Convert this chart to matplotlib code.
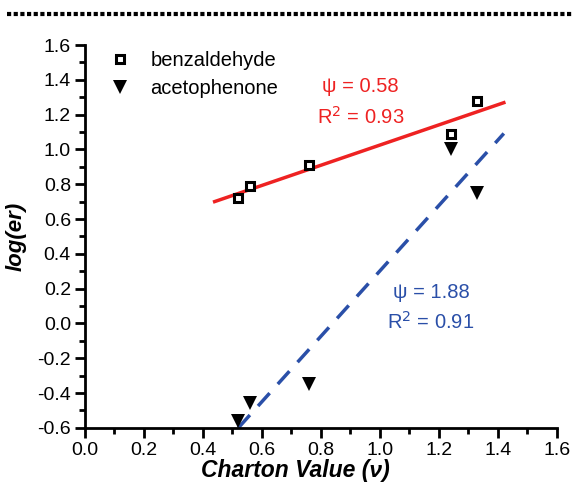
import numpy as np
import matplotlib.pyplot as plt
from matplotlib.lines import Line2D
from matplotlib.ticker import MultipleLocator

plt.rcParams['font.family'] = ['Liberation Sans', 'DejaVu Sans']

# Charton-Werte und log(er)
x_benz = [0.52, 0.56, 0.76, 1.24, 1.33]
y_benz = [0.72, 0.79, 0.91, 1.09, 1.28]
x_aceto = [0.52, 0.56, 0.76, 1.24, 1.33]
y_aceto = [-0.56, -0.46, -0.35, 1.00, 0.75]

# Regressionsgeraden (Steigung, Achsenabschnitt, x-Bereich)
fit_benz = (0.58, 0.445, [0.44, 1.42])
fit_aceto = (1.88, -1.578, [0.52, 1.42])

rot = '#ee2222'
blau = '#2a4fa8'

fig = plt.figure(figsize=(5.73, 4.84), dpi=100)
ax = fig.add_axes([0.148, 0.116, 0.824, 0.791])

# gepunktete Linie oben
fig.add_artist(Line2D([0.012, 1.0], [0.972, 0.972], color='black', lw=3,
                      linestyle=(0, (1, 0.6)), transform=fig.transFigure))

m, b, xr = fit_benz
xr = np.array(xr)
ax.plot(xr, m * xr + b, '-', color=rot, lw=2.5)
m, b, xr = fit_aceto
xr = np.array(xr)
ax.plot(xr, m * xr + b, '--', color=blau, lw=2.5, dashes=(5, 3.5))

ax.plot(x_benz, y_benz, 's', ms=6, mfc='white', mec='black', mew=2.2,
        label='benzaldehyde', clip_on=False)
ax.plot(x_aceto, y_aceto, 'v', ms=10, mew=0, color='black', label='acetophenone',
        clip_on=False)

fs_txt = 14.5
ax.text(0.935, 1.36, '\u03c8 = 0.58', color=rot, fontsize=fs_txt, ha='center', va='center')
ax.text(0.935, 1.19, 'R$^2$ = 0.93', color=rot, fontsize=fs_txt, ha='center', va='center')
ax.text(1.173, 0.175, '\u03c8 = 1.88', color=blau, fontsize=fs_txt, ha='center', va='center')
ax.text(1.173, 0.01, 'R$^2$ = 0.91', color=blau, fontsize=fs_txt, ha='center', va='center')

ax.set_xlim(0, 1.6)
ax.set_ylim(-0.6, 1.6)
ax.xaxis.set_major_locator(MultipleLocator(0.2))
ax.xaxis.set_minor_locator(MultipleLocator(0.1))
ax.yaxis.set_major_locator(MultipleLocator(0.2))
ax.yaxis.set_minor_locator(MultipleLocator(0.1))
ax.xaxis.set_major_formatter(lambda v, p: f'{v:.1f}')
ax.yaxis.set_major_formatter(lambda v, p: f'{v:.1f}')

for s in ['top', 'right']:
    ax.spines[s].set_visible(False)
for s in ['left', 'bottom']:
    ax.spines[s].set_linewidth(2)
ax.tick_params(which='major', direction='out', length=7, width=2, labelsize=14, pad=3)
ax.tick_params(which='minor', direction='out', length=4, width=2)

ax.set_xlabel('Charton Value (\u03bd)', fontsize=16.5, fontweight='bold',
              fontstyle='italic')
ax.xaxis.set_label_coords(0.445, -0.082)
ax.set_ylabel('log(er)', fontsize=16, fontweight='bold', fontstyle='italic')
ax.yaxis.set_label_coords(-0.123, 0.5)

ax.legend(loc='upper left', frameon=False, fontsize=14.5, handlelength=1,
          handletextpad=1.0, borderpad=0, borderaxespad=0, labelspacing=0.45,
          bbox_to_anchor=(0.192, 0.895), bbox_transform=fig.transFigure)

fig.savefig('out.png', dpi=100)
